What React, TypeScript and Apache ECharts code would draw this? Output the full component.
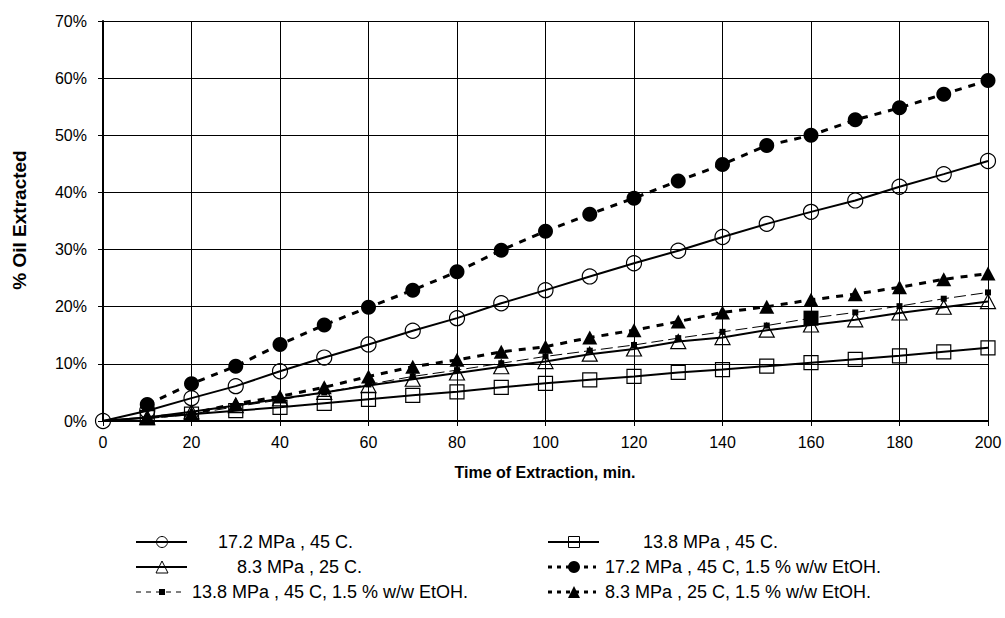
import React, { useEffect, useRef } from "react";
import * as echarts from "echarts";

const FONT = 'Arial, "Liberation Sans", Helvetica, sans-serif';

const times = [0, 10, 20, 30, 40, 50, 60, 70, 80, 90, 100, 110, 120, 130, 140, 150, 160, 170, 180, 190, 200];
const timesEtOH = times.slice(1);

const seriesNames = [
  "17.2 MPa , 45 C.",
  "13.8 MPa , 45 C.",
  "8.3 MPa , 25 C.",
  "17.2 MPa , 45 C, 1.5 % w/w EtOH.",
  "13.8 MPa , 45 C, 1.5 % w/w EtOH.",
  "8.3 MPa , 25 C, 1.5 % w/w EtOH.",
];

// % oil extracted
const mpa172 = [0, 1.8, 4.0, 6.1, 8.7, 11.1, 13.4, 15.8, 18.0, 20.6, 22.9, 25.3, 27.6, 29.8, 32.2, 34.5, 36.6, 38.6, 41.0, 43.2, 45.5];
const mpa138 = [0, 0.6, 1.2, 1.8, 2.4, 3.1, 3.8, 4.5, 5.1, 5.9, 6.6, 7.2, 7.8, 8.5, 9.0, 9.6, 10.2, 10.8, 11.4, 12.1, 12.8];
const mpa83 = [0, 0.6, 1.6, 2.7, 3.9, 5.0, 6.2, 7.3, 8.4, 9.5, 10.4, 11.7, 12.6, 13.9, 14.6, 15.9, 16.8, 17.7, 18.9, 19.9, 20.9];
const mpa172EtOH = [2.9, 6.5, 9.6, 13.4, 16.8, 19.9, 22.9, 26.1, 29.9, 33.2, 36.2, 39.0, 42.0, 44.9, 48.2, 50.0, 52.7, 54.8, 57.2, 59.6];
const mpa138EtOH = [0.4, 1.2, 2.5, 3.7, 5.0, 6.4, 7.8, 8.9, 10.1, 11.3, 12.3, 13.3, 14.5, 15.6, 16.7, 18.0, 19.0, 20.1, 21.4, 22.5];
const mpa83EtOH = [0.6, 1.3, 3.0, 4.3, 5.9, 7.8, 9.5, 10.7, 12.1, 13.0, 14.6, 15.9, 17.4, 19.0, 20.0, 21.2, 22.2, 23.4, 24.8, 25.8];

const xTitle = "Time of Extraction, min.";
const yTitle = "% Oil Extracted";

const hollow = { color: "rgba(0,0,0,0)", borderColor: "#000", borderWidth: 1.2 };
const filled = { color: "#000", borderColor: "#000", borderWidth: 0 };

function pairs(xs: number[], ys: number[], hideOrigin = false) {
  return xs.map((x, i) => {
    if (hideOrigin && x === 0) return { value: [x, ys[i]], symbolSize: 0 };
    return [x, ys[i]];
  });
}

function legendEntry(
  lx: number,
  y: number,
  marker: string,
  dash: "solid" | "dotted" | "dashed",
  label: string,
  tx: number
) {
  const children: any[] = [];
  const lineStyle: any = { stroke: "#000", lineWidth: 2 };
  if (dash === "dotted") {
    lineStyle.lineWidth = 3;
    lineStyle.lineDash = [4, 5];
  } else if (dash === "dashed") {
    lineStyle.lineWidth = 1;
    lineStyle.lineDash = [5, 5];
  }
  const len = dash === "solid" ? 51 : 48;
  children.push({ type: "line", shape: { x1: lx, y1: y, x2: lx + len, y2: y }, style: lineStyle });
  const cx = lx + 26;
  if (marker === "openCircle") {
    children.push({ type: "circle", shape: { cx, cy: y, r: 5.5 }, style: { fill: "none", stroke: "#000", lineWidth: 1 } });
  } else if (marker === "openSquare") {
    children.push({ type: "rect", shape: { x: cx - 5.5, y: y - 5.5, width: 11, height: 11 }, style: { fill: "none", stroke: "#000", lineWidth: 1 } });
  } else if (marker === "openTriangle") {
    children.push({ type: "polygon", shape: { points: [[cx, y - 6], [cx + 6, y + 6], [cx - 6, y + 6]] }, style: { fill: "none", stroke: "#000", lineWidth: 1 } });
  } else if (marker === "filledCircle") {
    children.push({ type: "circle", shape: { cx, cy: y, r: 6 }, style: { fill: "#000" } });
  } else if (marker === "smallSquare") {
    children.push({ type: "rect", shape: { x: cx - 3, y: y - 3, width: 6, height: 6 }, style: { fill: "#000" } });
  } else if (marker === "filledTriangle") {
    children.push({ type: "polygon", shape: { points: [[cx, y - 6], [cx + 6, y + 6], [cx - 6, y + 6]] }, style: { fill: "#000" } });
  }
  children.push({
    type: "text",
    x: tx,
    y,
    style: { text: label, fontSize: 18, fontFamily: FONT, fill: "#000", align: "left", verticalAlign: "middle" },
  });
  return children;
}

export default function App() {
  const ref = useRef<HTMLDivElement>(null);
  useEffect(() => {
    const chart = echarts.init(ref.current!, null, { renderer: "svg" });
    const squareData: any[] = pairs(timesEtOH, mpa138EtOH).map((p: any) =>
      p[0] === 160 ? { value: p, symbolSize: 15 } : p
    );
    const legendGraphics = [
      ...legendEntry(136, 542, "openCircle", "solid", seriesNames[0], 218),
      ...legendEntry(548, 542, "openSquare", "solid", seriesNames[1], 643),
      ...legendEntry(136, 567, "openTriangle", "solid", seriesNames[2], 237),
      ...legendEntry(548, 567, "filledCircle", "dotted", seriesNames[3], 605),
      ...legendEntry(136, 592, "smallSquare", "dashed", seriesNames[4], 192),
      ...legendEntry(548, 592, "filledTriangle", "dotted", seriesNames[5], 605),
    ];
    const option: any = {
      animation: false,
      backgroundColor: "#fff",
      grid: { left: 103, right: 17, top: 21, bottom: 197 },
      xAxis: {
        type: "value",
        min: 0,
        max: 200,
        interval: 20,
        axisLine: { show: true, onZero: false, lineStyle: { color: "#000", width: 2 } },
        axisTick: { show: true, length: 5, lineStyle: { color: "#000", width: 1 } },
        axisLabel: { color: "#000", fontSize: 16, fontFamily: FONT, margin: 13 },
        splitLine: { show: true, lineStyle: { color: "#000", width: 1 } },
      },
      yAxis: {
        type: "value",
        min: 0,
        max: 70,
        interval: 10,
        axisLine: { show: true, onZero: false, lineStyle: { color: "#000", width: 2 } },
        axisTick: { show: true, length: 5, lineStyle: { color: "#000", width: 1 } },
        axisLabel: { color: "#000", fontSize: 16, fontFamily: FONT, margin: 16, formatter: "{value}%" },
        splitLine: { show: true, lineStyle: { color: "#000", width: 1 } },
      },
      graphic: [
        {
          type: "text",
          x: 545,
          y: 472,
          style: { text: xTitle, fontSize: 16, fontWeight: "bold", fontFamily: FONT, fill: "#000", align: "center", verticalAlign: "middle" },
        },
        {
          type: "text",
          x: 19,
          y: 220,
          rotation: Math.PI / 2,
          style: { text: yTitle, fontSize: 19, fontWeight: "bold", fontFamily: FONT, fill: "#000", align: "center", verticalAlign: "middle" },
        },
        ...legendGraphics,
      ],
      series: [
        {
          name: seriesNames[0],
          type: "line",
          data: pairs(times, mpa172),
          symbol: "circle",
          symbolSize: 15,
          itemStyle: hollow,
          lineStyle: { color: "#000", width: 2, type: "solid" },
        },
        {
          name: seriesNames[1],
          type: "line",
          data: pairs(times, mpa138, true),
          symbol: "rect",
          symbolSize: 14,
          itemStyle: hollow,
          lineStyle: { color: "#000", width: 2, type: "solid" },
        },
        {
          name: seriesNames[2],
          type: "line",
          data: pairs(times, mpa83, true),
          symbol: "triangle",
          symbolSize: [15, 14],
          itemStyle: hollow,
          lineStyle: { color: "#000", width: 2, type: "solid" },
        },
        {
          name: seriesNames[3],
          type: "line",
          data: pairs(timesEtOH, mpa172EtOH),
          symbol: "circle",
          symbolSize: 15,
          itemStyle: filled,
          lineStyle: { color: "#000", width: 3, type: [7, 7] },
        },
        {
          name: seriesNames[4],
          type: "line",
          data: squareData,
          symbol: "rect",
          symbolSize: 6,
          itemStyle: filled,
          lineStyle: { color: "#000", width: 1, type: [12, 5] },
        },
        {
          name: seriesNames[5],
          type: "line",
          data: pairs(timesEtOH, mpa83EtOH),
          symbol: "triangle",
          symbolSize: [15, 14],
          itemStyle: filled,
          lineStyle: { color: "#000", width: 3, type: [7, 7] },
        },
      ],
    };
    chart.setOption(option);
    return () => chart.dispose();
  }, []);
  return (
    <div
      ref={ref}
      style={{ position: "absolute", left: 0, top: 0, width: 1005, height: 618 }}
    />
  );
}
